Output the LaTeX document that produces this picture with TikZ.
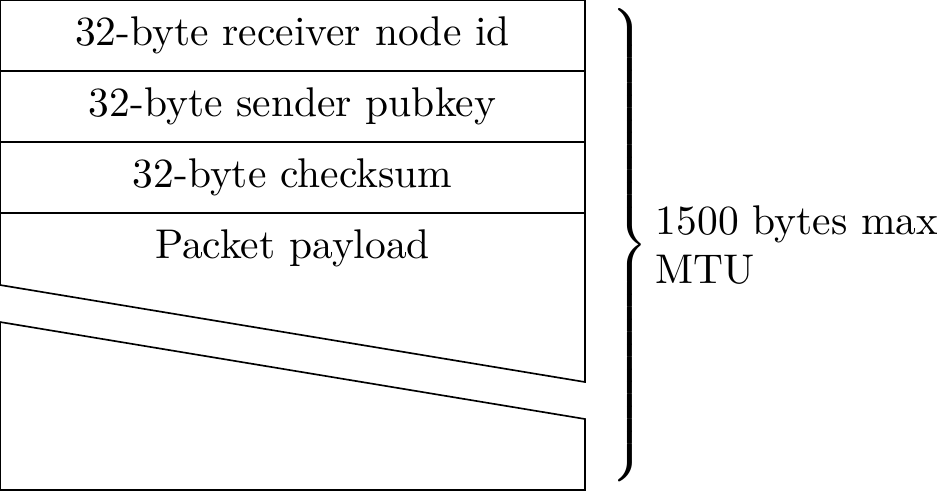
\documentclass[tikz,border=0pt]{standalone}
\usetikzlibrary{positioning}
\tikzset{
  field/.style={draw, minimum width=141pt, minimum height=17.11pt, inner sep=0pt, outer sep=0pt},
}
\begin{document}
\begin{tikzpicture}[x=0.241pt,y=-0.241pt]
%--------------------------------------------------
\useasboundingbox (0,0) rectangle (937,491);

% header fields of the packet
\node[field, anchor=north west] (recv) at (0,0) {32-byte receiver node id};
\node[field, below=0pt of recv] (pubkey) {32-byte sender pubkey};
\node[field, below=0pt of pubkey] (cksum) {32-byte checksum};
\node[field, draw=none, below=0pt of cksum] (payload) {Packet payload};

% payload, drawn broken in two pieces
\draw (cksum.south west) -- (0,285) -- (585,382) -- (cksum.south east);
\draw (0,322) -- (585,419) -- (585,490) -- (0,490) -- cycle;

% brace and size label
\node[anchor=west, inner sep=0pt] (brace) at (606,245) {$\left.\vcenter{\hrule height 114pt width 0pt}\right\}$};
\node[anchor=west, align=left, inner sep=0pt] (mtu) at (655,245) {1500 bytes max\\MTU};

%--------------------------------------------------
\end{tikzpicture}
\end{document}
